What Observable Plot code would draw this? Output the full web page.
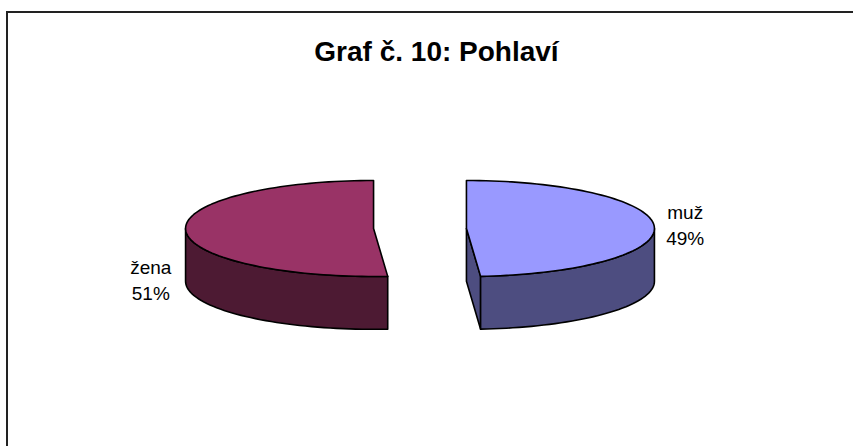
<!DOCTYPE html>
<html>
<head>
<meta charset="utf-8">
<script src="https://cdn.jsdelivr.net/npm/d3@7"></script>
<script src="https://cdn.jsdelivr.net/npm/@observablehq/plot@0.6"></script>
<style>
  html, body { margin: 0; padding: 0; background: #fff; }
  #chart { position: relative; width: 853px; height: 446px; overflow: hidden; font-family: "Liberation Sans", Arial, sans-serif; }
  #frame { position: absolute; left: 6px; top: 11px; right: -4px; bottom: -4px; border-left: 2px solid #222; border-top: 2px solid #222; }
  #title { position: absolute; left: 0; width: 873px; top: 36px; text-align: center; font-weight: bold; font-size: 28px; line-height: 32px; color: #000; }
  #chart svg { position: absolute; left: 0; top: 0; }
</style>
</head>
<body>
<div id="chart">
  <div id="frame"></div>
  <div id="title">Graf č. 10: Pohlaví</div>
</div>
<script>
const categories = ["muž", "žena"];
const shares = [48.8, 51.2];          // labels round to 49 % and 51 %
const topColors = ["#9999ff", "#993366"];
const sideColors = ["#4d4d80", "#4d1a33"];

const explode = 0.247;  // slice offset in radius units
const depth = 1.1;      // pie height in units of the vertical semi-axis
const total = d3.sum(shares);

// Arc of a slice on a unit ellipse, angle clockwise from 12 o'clock
function arc(cx, a0, a1, drop = 0) {
  const n = Math.max(1, Math.ceil(Math.abs(a1 - a0) / (Math.PI / 90)));
  return d3.range(n + 1).map(i => {
    const a = a0 + (a1 - a0) * i / n;
    return {x: cx + Math.sin(a), y: Math.cos(a) - drop};
  });
}
const at = (cx, drop = 0) => ({x: cx, y: -drop});

let start = 0;
const slices = categories.map((name, i) => {
  const a0 = start, a1 = start + shares[i] / total * 2 * Math.PI;
  start = a1;
  return {name, share: shares[i], a0, a1, cx: i === 0 ? explode : -explode,
          top: topColors[i], side: sideColors[i]};
});

const marks = [];
const polygon = (pts, fill) => marks.push(Plot.line([...pts, pts[0]], {
  x: "x", y: "y", fill, stroke: "#000", strokeWidth: 1.6, strokeLinejoin: "round"
}));

// muž: the cut wall, then the outer wall, then the top
const [m, z] = slices;
const mEnd = {x: m.cx + Math.sin(m.a1), y: Math.cos(m.a1)};
polygon([at(m.cx), mEnd, {x: mEnd.x, y: mEnd.y - depth}, at(m.cx, depth)], m.side);
const mWall = arc(m.cx, Math.PI / 2, m.a1);
polygon([...mWall, ...arc(m.cx, m.a1, Math.PI / 2, depth)], m.side);
polygon([at(m.cx), ...arc(m.cx, m.a0, m.a1)], m.top);

// žena: the outer wall, then the top
const zWall = arc(z.cx, z.a0, 1.5 * Math.PI);
polygon([...zWall, ...arc(z.cx, 1.5 * Math.PI, z.a0, depth)], z.side);
polygon([at(z.cx), ...arc(z.cx, z.a0, z.a1)], z.top);

// Labels sit outside the middle of each slice
slices.forEach((s, i) => {
  const mid = (s.a0 + s.a1) / 2;
  marks.push(Plot.text([s], {
    x: d => d.cx + 1.17 * Math.sin(mid),
    y: d => Math.cos(mid),
    text: d => `${d.name}\n${d3.format(".0f")(d.share)}%`,
    fontSize: 19,
    lineHeight: 1.37,
    fill: "#000",
    dx: i === 0 ? -1 : -3,
    dy: i === 0 ? -3 : 48
  }));
});

const plot = Plot.plot({
  width: 853,
  height: 446,
  margin: 0,
  style: {background: "transparent", fontFamily: "'Liberation Sans', Arial, sans-serif"},
  x: {domain: [-1, 1], range: [231.5, 607.5], axis: null},
  y: {domain: [-1, 1], range: [276, 180], axis: null},
  marks
});
document.getElementById("chart").appendChild(plot);
</script>
</body>
</html>
